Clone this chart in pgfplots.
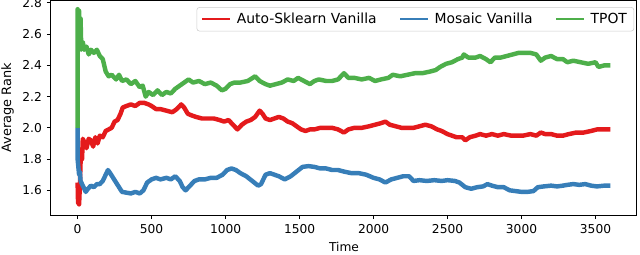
\documentclass[border=0pt]{standalone}
\usepackage{fontspec}
\setmainfont{DejaVu Sans}
\usepackage{pgfplots}
\pgfplotsset{compat=1.18}
\usetikzlibrary{calc}
\definecolor{cred}{HTML}{E41A1C}
\definecolor{cblue}{HTML}{377EB8}
\definecolor{cgreen}{HTML}{4DAF4A}
\begin{document}
\begin{tikzpicture}
\begin{axis}[
  scale only axis, width=421.9pt, height=154.4pt,
  xmin=-180, xmax=3780, ymin=1.442, ymax=2.815,
  xtick={0,500,1000,1500,2000,2500,3000,3500},
  ytick={1.6,1.8,2.0,2.2,2.4,2.6,2.8},
  yticklabels={1.6,1.8,2.0,2.2,2.4,2.6,2.8},
  /pgf/number format/assume math mode=true,
  xticklabel style={/pgf/number format/.cd, set thousands separator={}},
  scaled x ticks=false,
  tick align=outside, xtick pos=left, ytick pos=left,
  major tick length=3pt,
  tick style={black, line width=0.6pt},
  axis line style={black, line width=0.7pt},
  ticklabel style={font=\fontsize{8.8}{10}\selectfont},
  every axis x label/.style={at={(axis description cs:0.5,-0.172)}, anchor=base, font=\fontsize{8.8}{10}\selectfont},
  every axis y label/.style={at={(axis description cs:-0.074,0.5)}, rotate=90, anchor=center, font=\fontsize{9.3}{10}\selectfont},
  xlabel={Time}, ylabel={Average Rank},
  legend columns=3,
  legend image code/.code={\draw[#1, line width=1.8pt] (0pt,0pt) -- (20pt,0pt);},
  legend style={at={(1,1)}, anchor=north east, xshift=-2pt, yshift=-4.7pt,
    draw=black!20, rounded corners=2pt, fill=white,
    font=\fontsize{10}{11}\selectfont,
    /tikz/every odd column/.append style={column sep=2pt},
    /tikz/every even column/.append style={column sep=14pt}},
  every axis plot/.append style={line width=3.2pt, line join=round},
]
\addplot[cred] coordinates {
(0,1.65) (3,1.52) (6,1.60) (10,1.51) (15,1.62) (20,1.78) (25,1.85) (30,1.80) (35,1.93) (45,1.91)
(60,1.87) (75,1.93) (90,1.92) (105,1.88) (120,1.94) (135,1.90) (150,1.95) (170,1.94) (190,1.98) (210,1.99)
(230,2.00) (250,2.04) (270,2.05) (290,2.09) (305,2.13) (330,2.14) (360,2.15) (390,2.14) (420,2.16) (450,2.16)
(480,2.15) (500,2.14) (530,2.12) (560,2.12) (600,2.11) (640,2.10) (670,2.12) (700,2.15) (720,2.13) (745,2.09)
(770,2.08) (800,2.07) (840,2.06) (880,2.06) (920,2.06) (960,2.05) (990,2.04) (1020,2.05) (1050,2.02) (1080,1.99)
(1110,2.02) (1140,2.04) (1170,2.05) (1200,2.07) (1230,2.11) (1250,2.09) (1270,2.06) (1300,2.05) (1330,2.06) (1360,2.07)
(1390,2.06) (1420,2.04) (1450,2.03) (1480,2.01) (1510,1.99) (1540,1.98) (1570,1.99) (1600,1.99) (1640,2.00) (1680,2.00)
(1720,2.00) (1760,1.99) (1800,1.97) (1830,1.99) (1870,2.00) (1920,2.00) (1970,2.01) (2010,2.02) (2050,2.03) (2080,2.04)
(2110,2.02) (2150,2.01) (2190,2.00) (2230,2.00) (2270,2.00) (2310,2.01) (2350,2.02) (2390,2.01) (2430,1.99) (2460,1.98)
(2500,1.96) (2530,1.95) (2560,1.94) (2600,1.94) (2620,1.92) (2650,1.94) (2690,1.95) (2720,1.96) (2760,1.95) (2800,1.96)
(2840,1.95) (2880,1.96) (2930,1.95) (2970,1.95) (3010,1.95) (3060,1.96) (3100,1.95) (3130,1.97) (3160,1.96) (3200,1.96)
(3240,1.95) (3280,1.95) (3320,1.96) (3370,1.97) (3420,1.97) (3470,1.98) (3510,1.99) (3560,1.99) (3600,1.99)
};
\addlegendentry{Auto-Sklearn Vanilla}
\addplot[cblue] coordinates {
(0,2.00) (0,1.80) (5,1.75) (10,1.70) (15,1.72) (20,1.66) (30,1.64) (40,1.62) (55,1.59) (70,1.61)
(90,1.63) (110,1.62) (130,1.64) (150,1.64) (170,1.66) (190,1.70) (205,1.73) (220,1.71) (240,1.68) (260,1.65)
(280,1.62) (300,1.59) (330,1.585) (360,1.58) (390,1.59) (420,1.58) (445,1.60) (470,1.65) (500,1.67) (530,1.68)
(560,1.67) (600,1.68) (630,1.67) (660,1.69) (690,1.66) (710,1.62) (730,1.60) (760,1.63) (790,1.66) (820,1.67)
(860,1.67) (900,1.68) (940,1.68) (980,1.70) (1010,1.73) (1040,1.74) (1070,1.73) (1100,1.71) (1140,1.69) (1180,1.66)
(1220,1.63) (1240,1.64) (1270,1.70) (1300,1.71) (1330,1.70) (1360,1.69) (1400,1.67) (1440,1.69) (1480,1.72) (1520,1.75)
(1560,1.755) (1600,1.75) (1640,1.74) (1680,1.74) (1720,1.73) (1760,1.73) (1800,1.72) (1850,1.71) (1900,1.71) (1950,1.70)
(2000,1.68) (2040,1.67) (2080,1.65) (2120,1.67) (2160,1.68) (2200,1.69) (2240,1.69) (2270,1.66) (2310,1.665) (2360,1.66)
(2410,1.665) (2460,1.66) (2500,1.665) (2550,1.66) (2580,1.65) (2620,1.62) (2660,1.61) (2700,1.62) (2740,1.625) (2770,1.64)
(2800,1.63) (2840,1.62) (2880,1.62) (2920,1.60) (2960,1.595) (3000,1.59) (3040,1.59) (3080,1.595) (3110,1.62) (3150,1.625)
(3200,1.63) (3240,1.625) (3280,1.63) (3310,1.635) (3350,1.64) (3390,1.635) (3430,1.64) (3470,1.63) (3510,1.625) (3560,1.63)
(3600,1.63)
};
\addlegendentry{Mosaic Vanilla}
\addplot[cgreen] coordinates {
(0,2.00) (0,2.76) (5,2.72) (10,2.75) (15,2.55) (20,2.70) (25,2.50) (35,2.55) (45,2.50) (60,2.52)
(75,2.47) (90,2.50) (110,2.48) (130,2.50) (150,2.46) (170,2.44) (190,2.36) (210,2.33) (230,2.34) (260,2.31)
(280,2.34) (300,2.30) (330,2.31) (360,2.28) (390,2.30) (420,2.26) (440,2.27) (460,2.20) (480,2.23) (510,2.21)
(540,2.24) (570,2.21) (600,2.23) (630,2.22) (660,2.25) (690,2.27) (720,2.29) (750,2.31) (780,2.29) (820,2.30)
(860,2.28) (900,2.29) (940,2.27) (975,2.24) (1000,2.25) (1030,2.28) (1060,2.29) (1100,2.29) (1150,2.30) (1200,2.33)
(1230,2.30) (1270,2.28) (1300,2.27) (1340,2.28) (1380,2.29) (1420,2.31) (1460,2.30) (1490,2.32) (1530,2.30) (1570,2.28)
(1600,2.30) (1630,2.31) (1680,2.30) (1720,2.30) (1760,2.31) (1800,2.35) (1830,2.32) (1870,2.32) (1920,2.31) (1970,2.32)
(2010,2.30) (2050,2.31) (2100,2.32) (2130,2.34) (2180,2.33) (2230,2.34) (2280,2.35) (2330,2.35) (2380,2.36) (2420,2.37)
(2450,2.39) (2490,2.41) (2530,2.42) (2570,2.44) (2600,2.45) (2610,2.47) (2640,2.45) (2690,2.45) (2720,2.46) (2760,2.44)
(2790,2.42) (2820,2.45) (2860,2.45) (2900,2.46) (2940,2.47) (2980,2.48) (3020,2.48) (3060,2.48) (3100,2.47) (3130,2.43)
(3160,2.45) (3200,2.46) (3240,2.44) (3280,2.44) (3310,2.42) (3350,2.43) (3400,2.42) (3450,2.41) (3500,2.42) (3520,2.39)
(3560,2.40) (3600,2.40)
};
\addlegendentry{TPOT}
\end{axis}
\pgfresetboundingbox
\path ($(current axis.south west)+(-36.7pt,-28.1pt)$) rectangle ($(current axis.north east)+(2.2pt,0.4pt)$);
\end{tikzpicture}
\end{document}
